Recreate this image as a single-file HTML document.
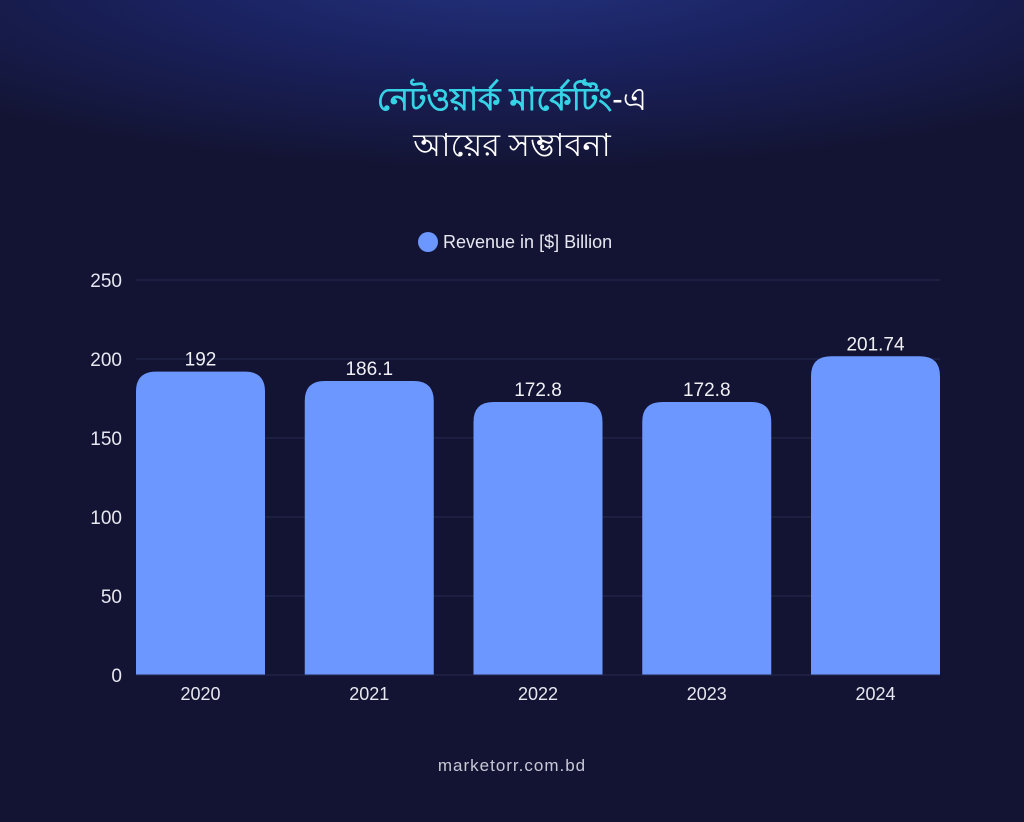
<!DOCTYPE html>
<html><head><meta charset="utf-8"><style>
html,body{margin:0;padding:0}
body{width:1024px;height:822px;overflow:hidden;background:#131433;font-family:"Liberation Sans",sans-serif}
#bg{position:absolute;left:0;top:0;width:1024px;height:822px;background:radial-gradient(ellipse 760px 200px at 512px -30px,#24337e 0%,#1a2260 45%,#131433 100%)}
.t{position:absolute;left:0;width:1024px;text-align:center;font-family:"Liberation Sans","Noto Sans CJK SC",sans-serif}
</style></head><body>
<div id="bg"></div>
<div class="t" style="top:74px;font-size:32px;color:#36d3e6;font-weight:bold">নেটওয়ার্ক মার্কেটিং<span style="color:#fff;font-weight:normal">-এ</span></div>
<div class="t" style="top:120px;font-size:32px;color:#fff">আয়ের সম্ভাবনা</div>
<svg id="chart" width="1024" height="822" style="position:absolute;left:0;top:0"></svg>
<div class="t" style="top:756px;font-size:17px;color:#c8c9d6;letter-spacing:1px">marketorr.com.bd</div>
<script>
const categories=["2020","2021","2022","2023","2024"];
const values=[192,186.1,172.8,172.8,201.74];
const valueLabels=["192","186.1","172.8","172.8","201.74"];
const yTicks=[0,50,100,150,200,250];
const NS="http://www.w3.org/2000/svg";
const svg=document.getElementById('chart');
const x0=136,x1=940,y0=675,y1=280,yMax=250;
const bw=129;
const y=v=>y0-(v/yMax)*(y0-y1);
function mk(t,a){const e=document.createElementNS(NS,t);for(const k in a)e.setAttribute(k,a[k]);svg.appendChild(e);return e;}
yTicks.forEach(v=>{
  if(v>0){const l=mk('line',{x1:x0,x2:x1,y1:y(v),y2:y(v),stroke:'#262950','stroke-width':1});
  
  }
  const t=mk('text',{x:122,y:y(v)+7,'text-anchor':'end',fill:'#e6e7f0','font-size':19});
  t.textContent=v;
  
  
});
const bs=(x1-x0-bw)/(categories.length-1);
categories.forEach((c,i)=>{
  const bx=x0+i*bs, top=y(values[i]), r=20;
  const p=mk('path',{d:`M${bx},${y0}V${top+r}Q${bx},${top} ${bx+r},${top}H${bx+bw-r}Q${bx+bw},${top} ${bx+bw},${top+r}V${y0}Z`,fill:'#6b97ff'});
  
  
  const vl=mk('text',{x:bx+bw/2,y:top-6,'text-anchor':'middle',fill:'#f0f0f5','font-size':19});
  vl.textContent=valueLabels[i];
  
  
  const xl=mk('text',{x:bx+bw/2,y:700,'text-anchor':'middle',fill:'#e6e7f0','font-size':18});
  xl.textContent=c;
  
  
});
const ax=mk('line',{x1:x0,x2:x1,y1:y0,y2:y0,stroke:'#262950'});


const ld=mk('circle',{cx:428,cy:242,r:10,fill:'#6b97ff'});


const lt=mk('text',{x:443,y:248,fill:'#e6e7f0','font-size':18});
lt.textContent='Revenue in [$] Billion';


</script>
</body></html>
